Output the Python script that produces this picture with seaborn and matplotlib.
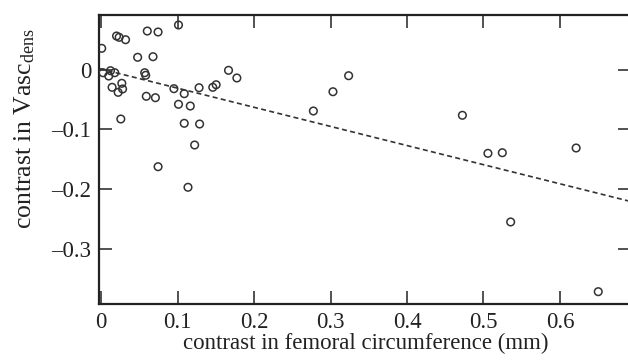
import numpy as np
import pandas as pd
import matplotlib
matplotlib.use("Agg")
import matplotlib.pyplot as plt
import seaborn as sns

# data
femoral_contrast = [0.1013, 0.0605, 0.0746, 0.0203, 0.0237, 0.0321, 0.0009, 0.0479, 0.0680,
                    0.0026, 0.0101, 0.0124, 0.0180, 0.0571, 0.0584, 0.0145, 0.0272, 0.0282,
                    0.0224, 0.0259, 0.0592, 0.0711, 0.0953, 0.1088, 0.1013, 0.1167, 0.1282,
                    0.1088, 0.1289, 0.1224, 0.0746, 0.1461, 0.1505, 0.1667, 0.1776, 0.1137,
                    0.3237, 0.3032, 0.2776, 0.4724, 0.5058, 0.5246, 0.6211, 0.5355, 0.6500]
vasc_contrast = [0.0746, 0.0645, 0.0629, 0.0562, 0.0540, 0.0500, 0.0356, 0.0206, 0.0216,
                 -0.0052, -0.0107, -0.0018, -0.0052, -0.0052, -0.0095, -0.0296, -0.0229, -0.0324,
                 -0.0380, -0.0826, -0.0446, -0.0470, -0.0319, -0.0403, -0.0580, -0.0609, -0.0303,
                 -0.0898, -0.0910, -0.1261, -0.1624, -0.0296, -0.0253, -0.0012, -0.0140, -0.1968,
                 -0.0102, -0.0370, -0.0692, -0.0764, -0.1400, -0.1390, -0.1311, -0.2548, -0.3714]
fit_intercept = 0.001
fit_slope = -0.320
x_ticks = [0, 0.1, 0.2, 0.3, 0.4, 0.5, 0.6]
y_ticks = [0, -0.1, -0.2, -0.3]
y_tick_labels = ["0", "\u20130.1", "\u20130.2", "\u20130.3"]
x_tick_labels = ["0", "0.1", "0.2", "0.3", "0.4", "0.5", "0.6"]

df = pd.DataFrame({"x": femoral_contrast, "y": vasc_contrast})

sns.set_theme(style="ticks")
plt.rcParams["font.family"] = ["Liberation Serif", "DejaVu Serif"]
plt.rcParams["mathtext.fontset"] = "custom"
plt.rcParams["mathtext.rm"] = "Liberation Serif"
plt.rcParams["mathtext.it"] = "Liberation Serif:italic"

fig = plt.figure(figsize=(6.28, 3.61), dpi=100)
ax = fig.add_axes([0.1584, 0.1579, 0.8466, 0.8005])

xlim = (-0.002, 0.693)
ylim = (-0.392, 0.0913)

line_x = np.array(xlim)
sns.lineplot(x=line_x, y=fit_intercept + fit_slope * line_x, ax=ax,
             color="#333333", linestyle=(0, (3, 2)), linewidth=1.2)
sns.scatterplot(data=df, x="x", y="y", ax=ax, marker="o", s=30,
                facecolor="none", edgecolor="#333333", linewidth=1.1, zorder=3)

ax.set_xlim(*xlim)
ax.set_ylim(*ylim)
ax.set_xticks(x_ticks)
ax.set_xticklabels(x_tick_labels)
ax.set_yticks(y_ticks)
ax.set_yticklabels(y_tick_labels)
ax.tick_params(direction="in", top=True, right=True, length=9.5, width=1.2,
               color="#333333", labelsize=16.5, labelcolor="#222222", pad=6)
for s in ax.spines.values():
    s.set_linewidth(1.6)
    s.set_color("#222222")
    s.set_visible(True)

ax.set_xlabel("contrast in femoral circumference (mm)", fontsize=16.5, color="#222222", labelpad=0)
ax.set_ylabel("contrast in Vasc$_{\\mathrm{dens}}$", fontsize=18.5, color="#222222")
ax.yaxis.set_label_coords(-0.118, 0.605)

fig.savefig("out.png", dpi=100)
